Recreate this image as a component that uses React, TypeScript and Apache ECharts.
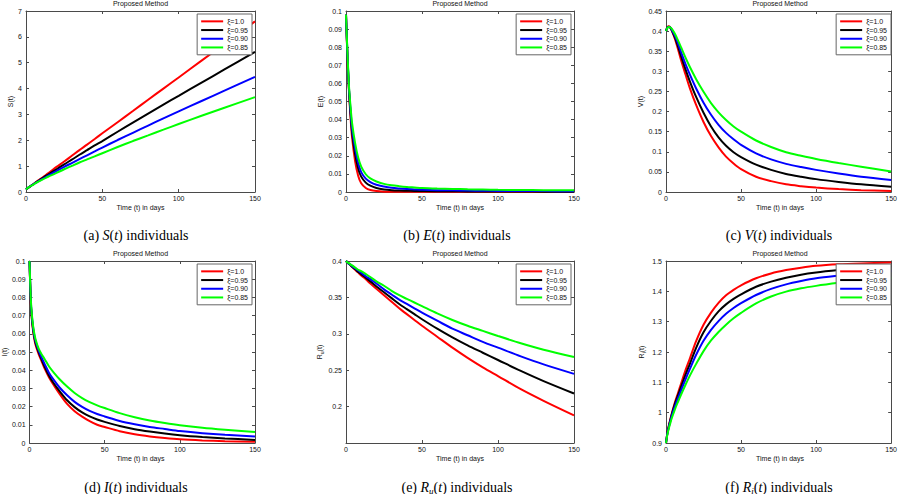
import React, { useEffect, useRef } from "react";
import * as echarts from "echarts";

// ---------------- data ----------------
const T = [0, 1, 2, 3, 4, 6, 8, 10, 13, 16, 20, 25, 30, 35, 40, 45, 50, 60, 70, 80, 90, 100, 115, 130, 150];
const XI_NAMES = ["ξ=1.0", "ξ=0.95", "ξ=0.90", "ξ=0.85"];
const X_TICKS = [0, 150, 50];

const sXi100 = [0.1, 0.14, 0.19, 0.23, 0.27, 0.36, 0.45, 0.53, 0.66, 0.79, 0.97, 1.18, 1.4, 1.62, 1.83, 2.05, 2.27, 2.7, 3.13, 3.57, 4.0, 4.43, 5.08, 5.73, 6.6];
const sXi095 = [0.1, 0.15, 0.19, 0.23, 0.27, 0.35, 0.43, 0.51, 0.62, 0.73, 0.88, 1.07, 1.25, 1.44, 1.62, 1.8, 1.97, 2.33, 2.68, 3.03, 3.38, 3.72, 4.23, 4.74, 5.42];
const sXi090 = [0.1, 0.15, 0.19, 0.23, 0.27, 0.34, 0.41, 0.48, 0.58, 0.68, 0.81, 0.97, 1.12, 1.27, 1.42, 1.57, 1.72, 2.01, 2.29, 2.57, 2.85, 3.12, 3.52, 3.92, 4.45];
const sXi085 = [0.1, 0.15, 0.19, 0.23, 0.26, 0.33, 0.4, 0.46, 0.55, 0.63, 0.74, 0.88, 1.01, 1.14, 1.26, 1.38, 1.5, 1.74, 1.97, 2.19, 2.41, 2.63, 2.95, 3.26, 3.67];

const eXi100 = [0.098, 0.073, 0.055, 0.041, 0.03, 0.017, 0.009, 0.0048, 0.0022, 0.0011, 0.0005, 0.0002, 0.0001, 0.0001, 0.0001, 0.0001, 0.0001, 0.0001, 0.0001, 0.0001, 0.0001, 0.0001, 0.0001, 0.0001, 0.0001];
const eXi095 = [0.098, 0.074, 0.056, 0.043, 0.033, 0.021, 0.013, 0.0085, 0.0052, 0.0035, 0.0022, 0.0014, 0.001, 0.0008, 0.0007, 0.0006, 0.0005, 0.0004, 0.0004, 0.0003, 0.0003, 0.0003, 0.0003, 0.0002, 0.0002];
const eXi090 = [0.098, 0.075, 0.057, 0.045, 0.035, 0.024, 0.016, 0.011, 0.0074, 0.0055, 0.004, 0.003, 0.0023, 0.0019, 0.0016, 0.0014, 0.0012, 0.001, 0.0009, 0.0008, 0.0007, 0.0006, 0.0005, 0.0005, 0.0004];
const eXi085 = [0.098, 0.076, 0.058, 0.047, 0.038, 0.027, 0.019, 0.014, 0.0098, 0.0075, 0.0058, 0.0045, 0.0037, 0.0032, 0.0028, 0.0025, 0.0022, 0.0019, 0.0017, 0.0015, 0.0014, 0.0012, 0.0011, 0.001, 0.0009];

const vXi100 = [0.4, 0.41, 0.412, 0.408, 0.4, 0.38, 0.355, 0.328, 0.292, 0.257, 0.217, 0.174, 0.139, 0.111, 0.088, 0.071, 0.057, 0.038, 0.027, 0.019, 0.0145, 0.011, 0.0072, 0.0045, 0.0025];
const vXi095 = [0.4, 0.41, 0.411, 0.408, 0.401, 0.384, 0.362, 0.338, 0.305, 0.274, 0.237, 0.197, 0.163, 0.136, 0.115, 0.099, 0.087, 0.068, 0.055, 0.045, 0.038, 0.032, 0.025, 0.019, 0.013];
const vXi090 = [0.4, 0.409, 0.41, 0.408, 0.402, 0.388, 0.369, 0.348, 0.318, 0.291, 0.258, 0.222, 0.192, 0.167, 0.147, 0.131, 0.117, 0.096, 0.081, 0.07, 0.062, 0.055, 0.046, 0.038, 0.03];
const vXi085 = [0.4, 0.408, 0.41, 0.409, 0.405, 0.393, 0.377, 0.36, 0.334, 0.31, 0.281, 0.249, 0.221, 0.198, 0.179, 0.163, 0.15, 0.128, 0.112, 0.099, 0.09, 0.082, 0.072, 0.063, 0.051];

const iXi100 = [0.1, 0.074, 0.064, 0.058, 0.054, 0.049, 0.045, 0.041, 0.036, 0.032, 0.027, 0.0215, 0.0175, 0.0145, 0.012, 0.01, 0.0088, 0.0065, 0.0048, 0.0036, 0.0027, 0.002, 0.0014, 0.001, 0.0007];
const iXi095 = [0.1, 0.075, 0.065, 0.059, 0.055, 0.05, 0.046, 0.042, 0.037, 0.033, 0.0285, 0.0235, 0.0197, 0.0168, 0.0146, 0.0129, 0.0116, 0.0093, 0.0076, 0.0063, 0.0052, 0.0043, 0.0033, 0.0025, 0.0017];
const iXi090 = [0.1, 0.076, 0.066, 0.06, 0.056, 0.051, 0.047, 0.0435, 0.0385, 0.0348, 0.0305, 0.0262, 0.0226, 0.0198, 0.0176, 0.0159, 0.0146, 0.0121, 0.0103, 0.0088, 0.0077, 0.0066, 0.0054, 0.0045, 0.0036];
const iXi085 = [0.1, 0.077, 0.067, 0.061, 0.057, 0.052, 0.0488, 0.0462, 0.042, 0.0388, 0.035, 0.031, 0.0275, 0.0247, 0.0225, 0.0207, 0.0192, 0.0164, 0.0142, 0.0124, 0.011, 0.0098, 0.0084, 0.0073, 0.006];

const ruXi100 = [0.4, 0.398, 0.396, 0.394, 0.392, 0.388, 0.384, 0.38, 0.375, 0.369, 0.362, 0.353, 0.344, 0.335, 0.327, 0.319, 0.311, 0.296, 0.281, 0.267, 0.254, 0.242, 0.224, 0.208, 0.188];
const ruXi095 = [0.4, 0.398, 0.396, 0.394, 0.392, 0.389, 0.385, 0.382, 0.377, 0.372, 0.365, 0.357, 0.349, 0.341, 0.334, 0.327, 0.32, 0.307, 0.295, 0.284, 0.274, 0.264, 0.249, 0.235, 0.218];
const ruXi090 = [0.4, 0.398, 0.396, 0.395, 0.393, 0.39, 0.387, 0.384, 0.379, 0.375, 0.369, 0.361, 0.354, 0.347, 0.341, 0.335, 0.329, 0.318, 0.307, 0.298, 0.289, 0.281, 0.269, 0.258, 0.245];
const ruXi085 = [0.4, 0.398, 0.397, 0.395, 0.394, 0.391, 0.388, 0.386, 0.382, 0.378, 0.372, 0.366, 0.359, 0.353, 0.348, 0.343, 0.338, 0.328, 0.319, 0.311, 0.304, 0.297, 0.287, 0.278, 0.268];

const riXi100 = [0.9, 0.935, 0.96, 0.98, 1.0, 1.035, 1.065, 1.095, 1.14, 1.18, 1.235, 1.29, 1.33, 1.362, 1.387, 1.405, 1.42, 1.443, 1.459, 1.47, 1.478, 1.484, 1.489, 1.492, 1.495];
const riXi095 = [0.9, 0.935, 0.958, 0.978, 0.997, 1.03, 1.058, 1.085, 1.125, 1.162, 1.213, 1.265, 1.303, 1.334, 1.357, 1.375, 1.39, 1.415, 1.432, 1.445, 1.455, 1.462, 1.47, 1.477, 1.483];
const riXi090 = [0.9, 0.933, 0.955, 0.974, 0.992, 1.022, 1.048, 1.073, 1.11, 1.145, 1.19, 1.237, 1.273, 1.302, 1.326, 1.345, 1.361, 1.388, 1.408, 1.423, 1.434, 1.443, 1.452, 1.46, 1.467];
const riXi085 = [0.9, 0.93, 0.95, 0.968, 0.984, 1.012, 1.036, 1.059, 1.092, 1.123, 1.16, 1.203, 1.238, 1.266, 1.29, 1.311, 1.329, 1.36, 1.383, 1.399, 1.41, 1.418, 1.428, 1.437, 1.445];

// y axis [min, max, interval]
const Y_S = [0, 7, 1];
const Y_E = [0, 0.1, 0.01];
const Y_V = [0, 0.45, 0.05];
const Y_I = [0, 0.1, 0.01];
const Y_RU = [0.15, 0.4, 0.05];
const Y_RI = [0.9, 1.5, 0.1];

const TITLE = "Proposed Method";
const X_NAME = "Time (t) in days";

// ---------------- layout / style ----------------
const COLORS = ["#ff0000", "#000000", "#0000ff", "#00ff00"];
const SANS = "Liberation Sans, Arial, Helvetica, sans-serif";
const SERIF = "Liberation Serif, Times New Roman, serif";
const AXIS_COLOR = "#4a4a4a";
const TEXT_COLOR = "#111111";

const GRIDS = [
  { left: 26, top: 11, width: 229, height: 181 },
  { left: 346, top: 11, width: 228, height: 181 },
  { left: 666, top: 11, width: 228, height: 181 },
  { left: 26, top: 261, width: 229, height: 182 },
  { left: 346, top: 261, width: 228, height: 182 },
  { left: 666, top: 261, width: 228, height: 182 },
];

const PANELS = [
  { data: [sXi100, sXi095, sXi090, sXi085], y: Y_S, yName: "S(t)", nameGap: 12, hideMin: false, caption: "{n|(a) }{i|S}{n|(}{i|t}{n|) individuals}" },
  { data: [eXi100, eXi095, eXi090, eXi085], y: Y_E, yName: "E(t)", nameGap: 21, hideMin: false, caption: "{n|(b) }{i|E}{n|(}{i|t}{n|) individuals}" },
  { data: [vXi100, vXi095, vXi090, vXi085], y: Y_V, yName: "V(t)", nameGap: 21, hideMin: false, caption: "{n|(c) }{i|V}{n|(}{i|t}{n|) individuals}" },
  { data: [iXi100, iXi095, iXi090, iXi085], y: Y_I, yName: "I(t)", nameGap: 21, hideMin: false, caption: "{n|(d) }{i|I}{n|(}{i|t}{n|) individuals}" },
  { data: [ruXi100, ruXi095, ruXi090, ruXi085], y: Y_RU, yName: "{r|R}{s|u}{r|(t)}", nameGap: 21, hideMin: true, caption: "{n|(e) }{i|R}{sub|u}{n|(}{i|t}{n|) individuals}" },
  { data: [riXi100, riXi095, riXi090, riXi085], y: Y_RI, yName: "{r|R}{s|i}{r|(t)}", nameGap: 20, hideMin: false, caption: "{n|(f) }{i|R}{sub|i}{n|(}{i|t}{n|) individuals}" },
];

const CAPTION_POS = [
  [136, 235],
  [457, 235],
  [779, 235],
  [136, 487],
  [457, 487],
  [779, 487],
];

function centeredText(x: number, y: number, text: string, font: string) {
  return {
    type: "text",
    x,
    y,
    silent: true,
    style: {
      text,
      fill: TEXT_COLOR,
      font,
      textAlign: "center",
      align: "center",
      textVerticalAlign: "middle",
      verticalAlign: "middle",
    },
  };
}

function buildOption() {
  const xAxis: any[] = [];
  const yAxis: any[] = [];
  const series: any[] = [];
  const legend: any[] = [];
  const graphic: any[] = [];

  const tick = { show: true, inside: true, length: 3, lineStyle: { color: AXIS_COLOR, width: 1 } };
  const line = { show: true, onZero: false, lineStyle: { color: AXIS_COLOR, width: 1 } };
  const label = { fontSize: 7, color: TEXT_COLOR, fontFamily: SANS };

  PANELS.forEach((p, i) => {
    const g = GRIDS[i];
    xAxis.push({
      type: "value", gridIndex: i, position: "bottom",
      min: X_TICKS[0], max: X_TICKS[1], interval: X_TICKS[2],
      axisLine: line, axisTick: tick, splitLine: { show: false },
      axisLabel: { ...label, margin: 3 },
    });
    xAxis.push({
      type: "value", gridIndex: i, position: "top",
      min: X_TICKS[0], max: X_TICKS[1], interval: X_TICKS[2],
      axisLine: line, axisTick: tick, splitLine: { show: false },
      axisLabel: { show: false },
    });
    yAxis.push({
      type: "value", gridIndex: i, position: "left",
      min: p.y[0], max: p.y[1], interval: p.y[2],
      axisLine: line, axisTick: tick, splitLine: { show: false },
      axisLabel: { ...label, margin: 4, showMinLabel: !p.hideMin },
      name: p.yName, nameLocation: "middle", nameGap: p.nameGap,
      nameTextStyle: {
        fontSize: 7, color: TEXT_COLOR, fontFamily: SANS,
        rich: {
          r: { fontSize: 7, color: TEXT_COLOR, fontFamily: SANS, lineHeight: 9 },
          s: { fontSize: 5, color: TEXT_COLOR, fontFamily: SANS, lineHeight: 6, verticalAlign: "bottom" },
        },
      },
    });
    yAxis.push({
      type: "value", gridIndex: i, position: "right",
      min: p.y[0], max: p.y[1], interval: p.y[2],
      axisLine: line, axisTick: tick, splitLine: { show: false },
      axisLabel: { show: false },
    });

    p.data.forEach((arr, k) => {
      series.push({
        type: "line",
        name: XI_NAMES[k],
        xAxisIndex: 2 * i,
        yAxisIndex: 2 * i,
        data: T.map((t, j) => [t, arr[j]]),
        showSymbol: false,
        symbol: "none",
        smooth: 0.3,
        color: COLORS[k],
        lineStyle: { color: COLORS[k], width: 2 },
        silent: true,
        z: 2,
      });
    });

    legend.push({
      data: XI_NAMES,
      orient: "vertical",
      right: 900 - (g.left + g.width) + 3,
      top: g.top + 3,
      backgroundColor: "#fff",
      borderColor: "#666",
      borderWidth: 1,
      borderRadius: 0,
      padding: [3, 4, 3, 4],
      itemGap: 0,
      itemWidth: 22,
      itemHeight: 2,
      icon: "rect",
      selectedMode: false,
      textStyle: { fontSize: 7, color: TEXT_COLOR, fontFamily: SANS, lineHeight: 8.7, padding: [0, 0, 0, -1] },
    });

    graphic.push(centeredText(g.left + g.width / 2, g.top - 8, TITLE, `7px ${SANS}`));
    graphic.push(centeredText(g.left + g.width / 2, g.top + g.height + 15, X_NAME, `7px ${SANS}`));

    const cp = CAPTION_POS[i];
    graphic.push({
      type: "text",
      x: cp[0],
      y: cp[1],
      silent: true,
      style: {
        text: p.caption,
        fill: "#000",
        font: `14px ${SERIF}`,
        textAlign: "center",
        align: "center",
        textVerticalAlign: "middle",
        verticalAlign: "middle",
        rich: {
          n: { fontSize: 14, fontFamily: SERIF, color: "#000", lineHeight: 16 },
          i: { fontSize: 14, fontFamily: SERIF, fontStyle: "italic", color: "#000", lineHeight: 16 },
          sub: { fontSize: 9, fontFamily: SERIF, fontStyle: "italic", color: "#000", lineHeight: 9, verticalAlign: "bottom" },
        },
      },
    });
  });

  return {
    animation: false,
    backgroundColor: "#ffffff",
    grid: GRIDS.map((g) => ({ ...g, show: false, containLabel: false })),
    xAxis,
    yAxis,
    legend,
    series,
    graphic,
  };
}

export default function App() {
  const ref = useRef<HTMLDivElement>(null);
  useEffect(() => {
    if (!ref.current) return;
    const chart = echarts.init(ref.current, undefined, { renderer: "svg" });
    chart.setOption(buildOption() as any);
    return () => chart.dispose();
  }, []);
  return (
    <div
      ref={ref}
      style={{ position: "fixed", left: 0, top: 0, width: 900, height: 494, background: "#fff" }}
    />
  );
}
